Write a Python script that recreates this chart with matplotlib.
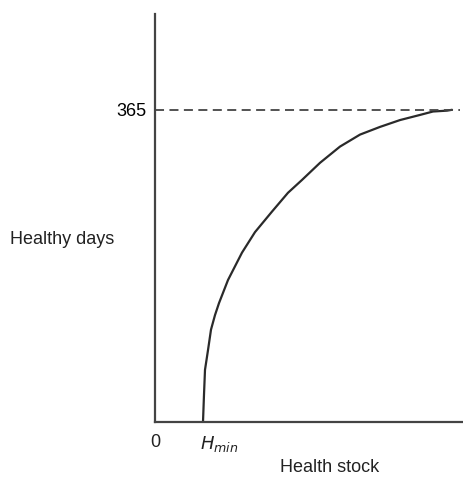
import matplotlib
matplotlib.use("Agg")
import matplotlib.pyplot as plt

# curve (health stock, healthy days)
health_stock = [48, 49, 50, 53, 56, 60, 64, 69, 73, 80, 87, 100, 117, 133,
                147, 165, 185, 205, 225, 245, 265, 278, 292, 297]
healthy_days = [0, 32, 61, 84, 108, 125, 139, 154, 166, 182, 198, 222, 246,
                268, 283, 303, 322, 336, 345, 353, 359, 363, 364, 365]
max_days = 365
h_min = 48

plt.rcParams['font.family'] = ['Liberation Sans Narrow', 'Liberation Sans', 'DejaVu Sans']

fig = plt.figure(figsize=(4.64, 4.79), dpi=100)
ax = fig.add_axes([155 / 464, 57 / 479, 309 / 464, 408 / 479])

ax.plot(health_stock, healthy_days, color="#2a2a2a", lw=1.6,
        solid_joinstyle="round", solid_capstyle="round")
ax.plot([0, 305], [max_days, max_days], color="#444444", lw=1.3,
        linestyle=(0, (5, 3)))

ax.set_xlim(0, 309)
ax.set_ylim(0, 477)

for s in ["top", "right"]:
    ax.spines[s].set_visible(False)
for s in ["left", "bottom"]:
    ax.spines[s].set_color("#444444")
    ax.spines[s].set_linewidth(1.6)

ax.set_yticks([max_days])
ax.set_yticklabels([str(max_days)], fontsize=13)
ax.set_xticks([])
ax.tick_params(axis="y", length=0, pad=6)

ax.text(0, -14, "0", ha="center", va="top", fontsize=13, color="#222222")
ax.text(h_min - 3, -14, r"$\mathit{H}_{\mathit{min}}$", ha="left", va="top",
        fontsize=13, color="#222222")

fig.text(10 / 464, 1 - 240 / 479, "Healthy days", ha="left", va="center",
         fontsize=13, color="#222222")
fig.text(330 / 464, 1 - 467 / 479, "Health stock", ha="center", va="center",
         fontsize=13, color="#222222")

fig.savefig("out.png", dpi=100)
